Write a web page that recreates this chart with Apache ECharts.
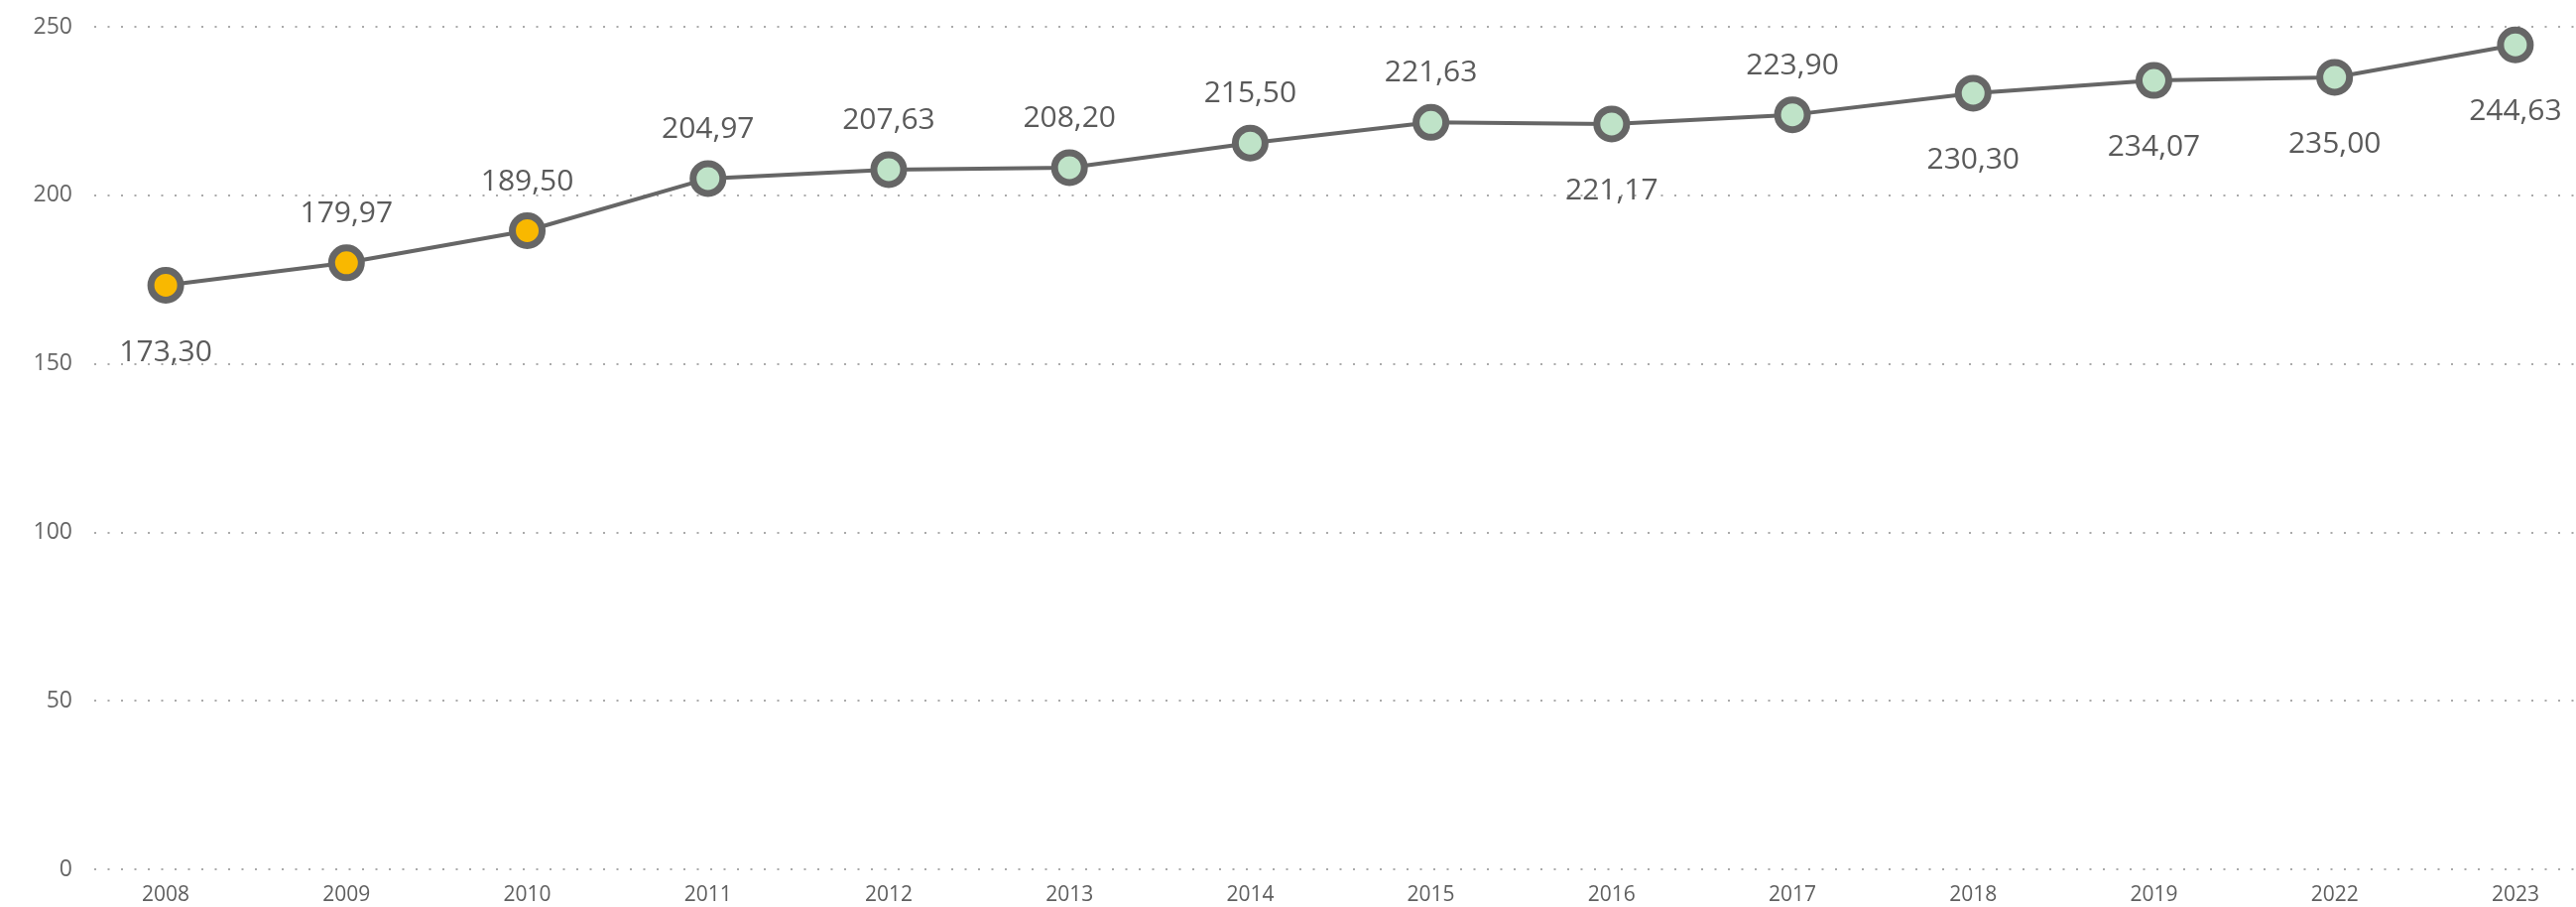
<!DOCTYPE html>
<html>
<head>
<meta charset="utf-8">
<script src="https://cdn.jsdelivr.net/npm/echarts@6/dist/echarts.min.js"></script>
<style>
  html, body { margin: 0; padding: 0; background: #fff; }
  #chart { width: 2597px; height: 914px; }
</style>
</head>
<body>
<div id="chart"></div>
<script>
// data
var years = ['2008', '2009', '2010', '2011', '2012', '2013', '2014', '2015', '2016', '2017', '2018', '2019', '2022', '2023'];
var values = [173.30, 179.97, 189.50, 204.97, 207.63, 208.20, 215.50, 221.63, 221.17, 223.90, 230.30, 234.07, 235.00, 244.63];
var yTicks = [0, 50, 100, 150, 200, 250];

// first three points are yellow, the rest green
var yellowCount = 3;
// points whose label sits under the marker
var labelBelow = [0, 8, 10, 11, 12, 13];

var fontName = '"Open Sans", "Noto Sans", sans-serif';

var seriesData = values.map(function (v, i) {
    var below = labelBelow.indexOf(i) >= 0;
    return {
        value: v,
        itemStyle: { color: i < yellowCount ? '#f9b800' : '#bfe3c8' },
        label: {
            position: below ? 'bottom' : 'top',
            distance: below ? 34 : 16
        }
    };
});

var myChart = echarts.init(document.getElementById('chart'));
var option = {
    animation: false,
    grid: [
        // grid for dotted lines + y labels
        { left: 95, right: 0, top: 27, bottom: 38, outerBoundsMode: 'none' },
        // grid for the categories and the line (wider than the canvas on the right)
        { left: 76, width: 2551, top: 27, bottom: 38, outerBoundsMode: 'none' }
    ],
    xAxis: [
        { gridIndex: 0, type: 'category', data: years, show: false },
        {
            gridIndex: 1,
            type: 'category',
            data: years,
            boundaryGap: true,
            axisLine: { show: false },
            axisTick: { show: false },
            axisLabel: { color: '#5f5f5f', fontSize: 21, fontFamily: fontName, margin: 16 }
        }
    ],
    yAxis: [
        {
            gridIndex: 0,
            type: 'value',
            min: yTicks[0],
            max: yTicks[yTicks.length - 1],
            interval: 50,
            axisLine: { show: false },
            axisTick: { show: false },
            axisLabel: { color: '#666', fontSize: 23, fontFamily: fontName, margin: 22 },
            splitLine: { lineStyle: { color: '#aaa', width: 2, type: [2, 11.5] } }
        },
        {
            gridIndex: 1,
            type: 'value',
            min: yTicks[0],
            max: yTicks[yTicks.length - 1],
            interval: 50,
            show: false,
            splitLine: { show: false }
        }
    ],
    series: [{
        type: 'line',
        xAxisIndex: 1,
        yAxisIndex: 1,
        data: seriesData,
        symbol: 'circle',
        symbolSize: 30,
        lineStyle: { color: '#666', width: 4 },
        itemStyle: { borderColor: '#666', borderWidth: 7 },
        label: {
            show: true,
            color: '#5a5a5a',
            fontSize: 30,
            fontFamily: fontName,
            formatter: function (p) { return p.value.toFixed(2).replace('.', ','); }
        },
        emphasis: { disabled: true },
        z: 3
    }]
};
myChart.setOption(option);
</script>
</body>
</html>
